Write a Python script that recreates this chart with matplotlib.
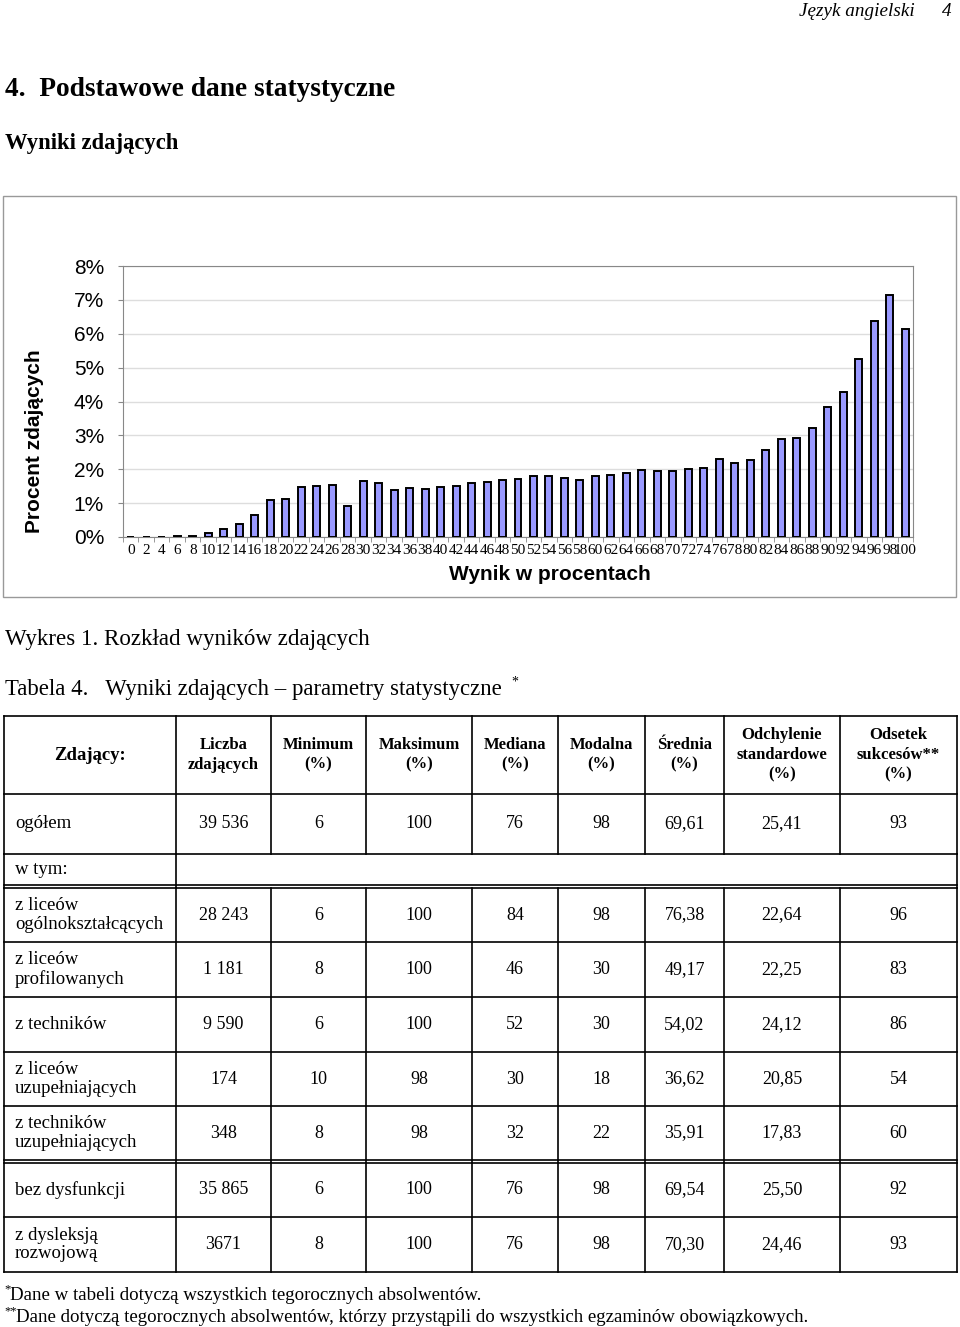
import matplotlib
matplotlib.use('Agg')
import matplotlib.pyplot as plt
from matplotlib.patches import Rectangle
from matplotlib.ticker import FuncFormatter, FixedLocator

plt.rcParams['font.family'] = ['Liberation Serif', 'DejaVu Serif']
SANS = ['Liberation Sans', 'DejaVu Sans']

# wynik w procentach i procent zdajacych
scores = list(range(0, 101, 2))
percent = [0.0, 0.0, 0.0, 0.03, 0.04, 0.12, 0.25, 0.39, 0.64, 1.08,
           1.11, 1.48, 1.51, 1.53, 0.92, 1.66, 1.58, 1.40, 1.44, 1.43,
           1.47, 1.50, 1.59, 1.63, 1.67, 1.72, 1.80, 1.80, 1.73, 1.69,
           1.81, 1.83, 1.90, 1.97, 1.96, 1.96, 2.02, 2.05, 2.29, 2.18,
           2.27, 2.57, 2.88, 2.91, 3.21, 3.85, 4.28, 5.25, 6.38, 7.15,
           6.15]

# tabela 4
header = ['Zdający:', 'Liczba\nzdających', 'Minimum\n(%)', 'Maksimum\n(%)',
          'Mediana\n(%)', 'Modalna\n(%)', 'Średnia\n(%)',
          'Odchylenie\nstandardowe\n(%)', 'Odsetek\nsukcesów**\n(%)']
row_labels = ['ogółem', 'z liceów\nogólnokształcących', 'z liceów\nprofilowanych',
              'z techników', 'z liceów\nuzupełniających', 'z techników\nuzupełniających',
              'bez dysfunkcji', 'z dysleksją\nrozwojową']
liczba = ['39 536', '28 243', '1 181', '9 590', '174', '348', '35 865', '3671']
minimum = [6, 6, 8, 6, 10, 8, 6, 8]
maksimum = [100, 100, 100, 100, 98, 98, 100, 100]
mediana = [76, 84, 46, 52, 30, 32, 76, 76]
modalna = [98, 98, 30, 30, 18, 22, 98, 98]
srednia = ['69,61', '76,38', '49,17', '54,02', '36,62', '35,91', '69,54', '70,30']
odchylenie = ['25,41', '22,64', '22,25', '24,12', '20,85', '17,83', '25,50', '24,46']
odsetek = [93, 96, 83, 86, 54, 60, 92, 93]

W, H = 960, 1327
fig = plt.figure(figsize=(W / 100, H / 100), dpi=100)

# tlo w pikselach strony
page = fig.add_axes([0, 0, 1, 1])
page.set_xlim(0, W)
page.set_ylim(H, 0)
page.axis('off')

page.text(915, 12, 'Język angielski', ha='right', va='center', fontsize=13.8, style='italic')
page.text(952, 12, '4', ha='right', va='center', fontsize=13.8, style='italic')
page.text(5, 89, '4.  Podstawowe dane statystyczne', ha='left', va='center',
          fontsize=19.7, fontweight='bold')
page.text(5, 143, 'Wyniki zdających', ha='left', va='center', fontsize=16.3, fontweight='bold')

# ramka wykresu
page.add_patch(Rectangle((3, 196), 953, 401, fill=False, edgecolor='#999999', lw=1))

ax = fig.add_axes([123 / W, 1 - 537 / H, (913 - 123) / W, (537 - 266) / H])
pos = list(range(len(scores)))
ax.bar(pos, percent, width=0.45, color='#9999FF', edgecolor='black', linewidth=1.4, zorder=3)
ax.set_xlim(-0.5, len(scores) - 0.5)
ax.set_ylim(0, 8)
ax.set_yticks(range(0, 9))
ax.yaxis.set_major_formatter(FuncFormatter(lambda v, p: f'{int(v)}%'))
ax.yaxis.grid(True, color='#DDDDDD', lw=1, zorder=0)
ax.set_xticks(pos)
ax.set_xticklabels([str(s) for s in scores], fontsize=11)
ax.tick_params(axis='x', which='major', length=0, pad=5)
ax.xaxis.set_minor_locator(FixedLocator([p - 0.5 for p in pos] + [len(scores) - 0.5]))
ax.tick_params(axis='x', which='minor', length=3.6, color='#888888', direction='out')
ax.tick_params(axis='y', length=3.6, color='#888888', direction='out', pad=10)
for lab in ax.get_yticklabels():
    lab.set_family(SANS)
    lab.set_fontsize(15)
for s in ax.spines.values():
    s.set_color('#888888')

page.text(35, 441, 'Procent zdających', rotation=90, ha='center', va='center',
          fontsize=15, fontweight='bold', family=SANS)
page.text(550, 575, 'Wynik w procentach', ha='center', va='center',
          fontsize=15, fontweight='bold', family=SANS)

page.text(5, 640, 'Wykres 1. Rozkład wyników zdających', ha='left', va='center', fontsize=16.6)
page.text(5, 690, 'Tabela 4.   Wyniki zdających – parametry statystyczne', ha='left',
          va='center', fontsize=16.4)
page.text(511, 682, '*', ha='left', va='center', fontsize=10)

# tabela
cols = [4, 176, 271, 366, 472, 558, 645, 724, 840, 957]
row_spans = [(794, 854), (888, 942), (942, 997), (997, 1052), (1052, 1106),
             (1106, 1160), (1163, 1217), (1217, 1272)]
lw = 1.2
for y in [716, 794, 854, 885, 888, 942, 997, 1052, 1106, 1160, 1163, 1217, 1272]:
    page.plot([cols[0], cols[-1]], [y, y], color='black', lw=lw)
for i, x in enumerate(cols):
    page.plot([x, x], [716, 854], color='black', lw=lw)
    page.plot([x, x], [888, 1272], color='black', lw=lw)
    if i in (0, 1, len(cols) - 1):
        page.plot([x, x], [854, 888], color='black', lw=lw)

for j, h in enumerate(header):
    cx = (cols[j] + cols[j + 1]) / 2
    page.text(cx, 755, h, ha='center', va='center', fontsize=13.5 if j == 0 else 12,
              fontweight='bold', linespacing=1.3)
page.text(15, 870, 'w tym:', ha='left', va='center', fontsize=13.5)

for r, (y0, y1) in enumerate(row_spans):
    cy = (y0 + y1) / 2
    page.text(15, cy, row_labels[r], ha='left', va='center', fontsize=13.5, linespacing=1.15)
    vals = [liczba[r], minimum[r], maksimum[r], mediana[r], modalna[r],
            srednia[r], odchylenie[r], odsetek[r]]
    for j, v in enumerate(vals):
        cx = (cols[j + 1] + cols[j + 2]) / 2
        page.text(cx, cy, str(v), ha='center', va='center', fontsize=13)

page.text(4, 1289, '*', ha='left', va='center', fontsize=9)
page.text(10, 1295, 'Dane w tabeli dotyczą wszystkich tegorocznych absolwentów.',
          ha='left', va='center', fontsize=13.6)
page.text(4, 1311, '**', ha='left', va='center', fontsize=9)
page.text(16, 1317, 'Dane dotyczą tegorocznych absolwentów, którzy przystąpili do wszystkich egzaminów obowiązkowych.',
          ha='left', va='center', fontsize=13.6)

fig.savefig('out.png', dpi=100)
